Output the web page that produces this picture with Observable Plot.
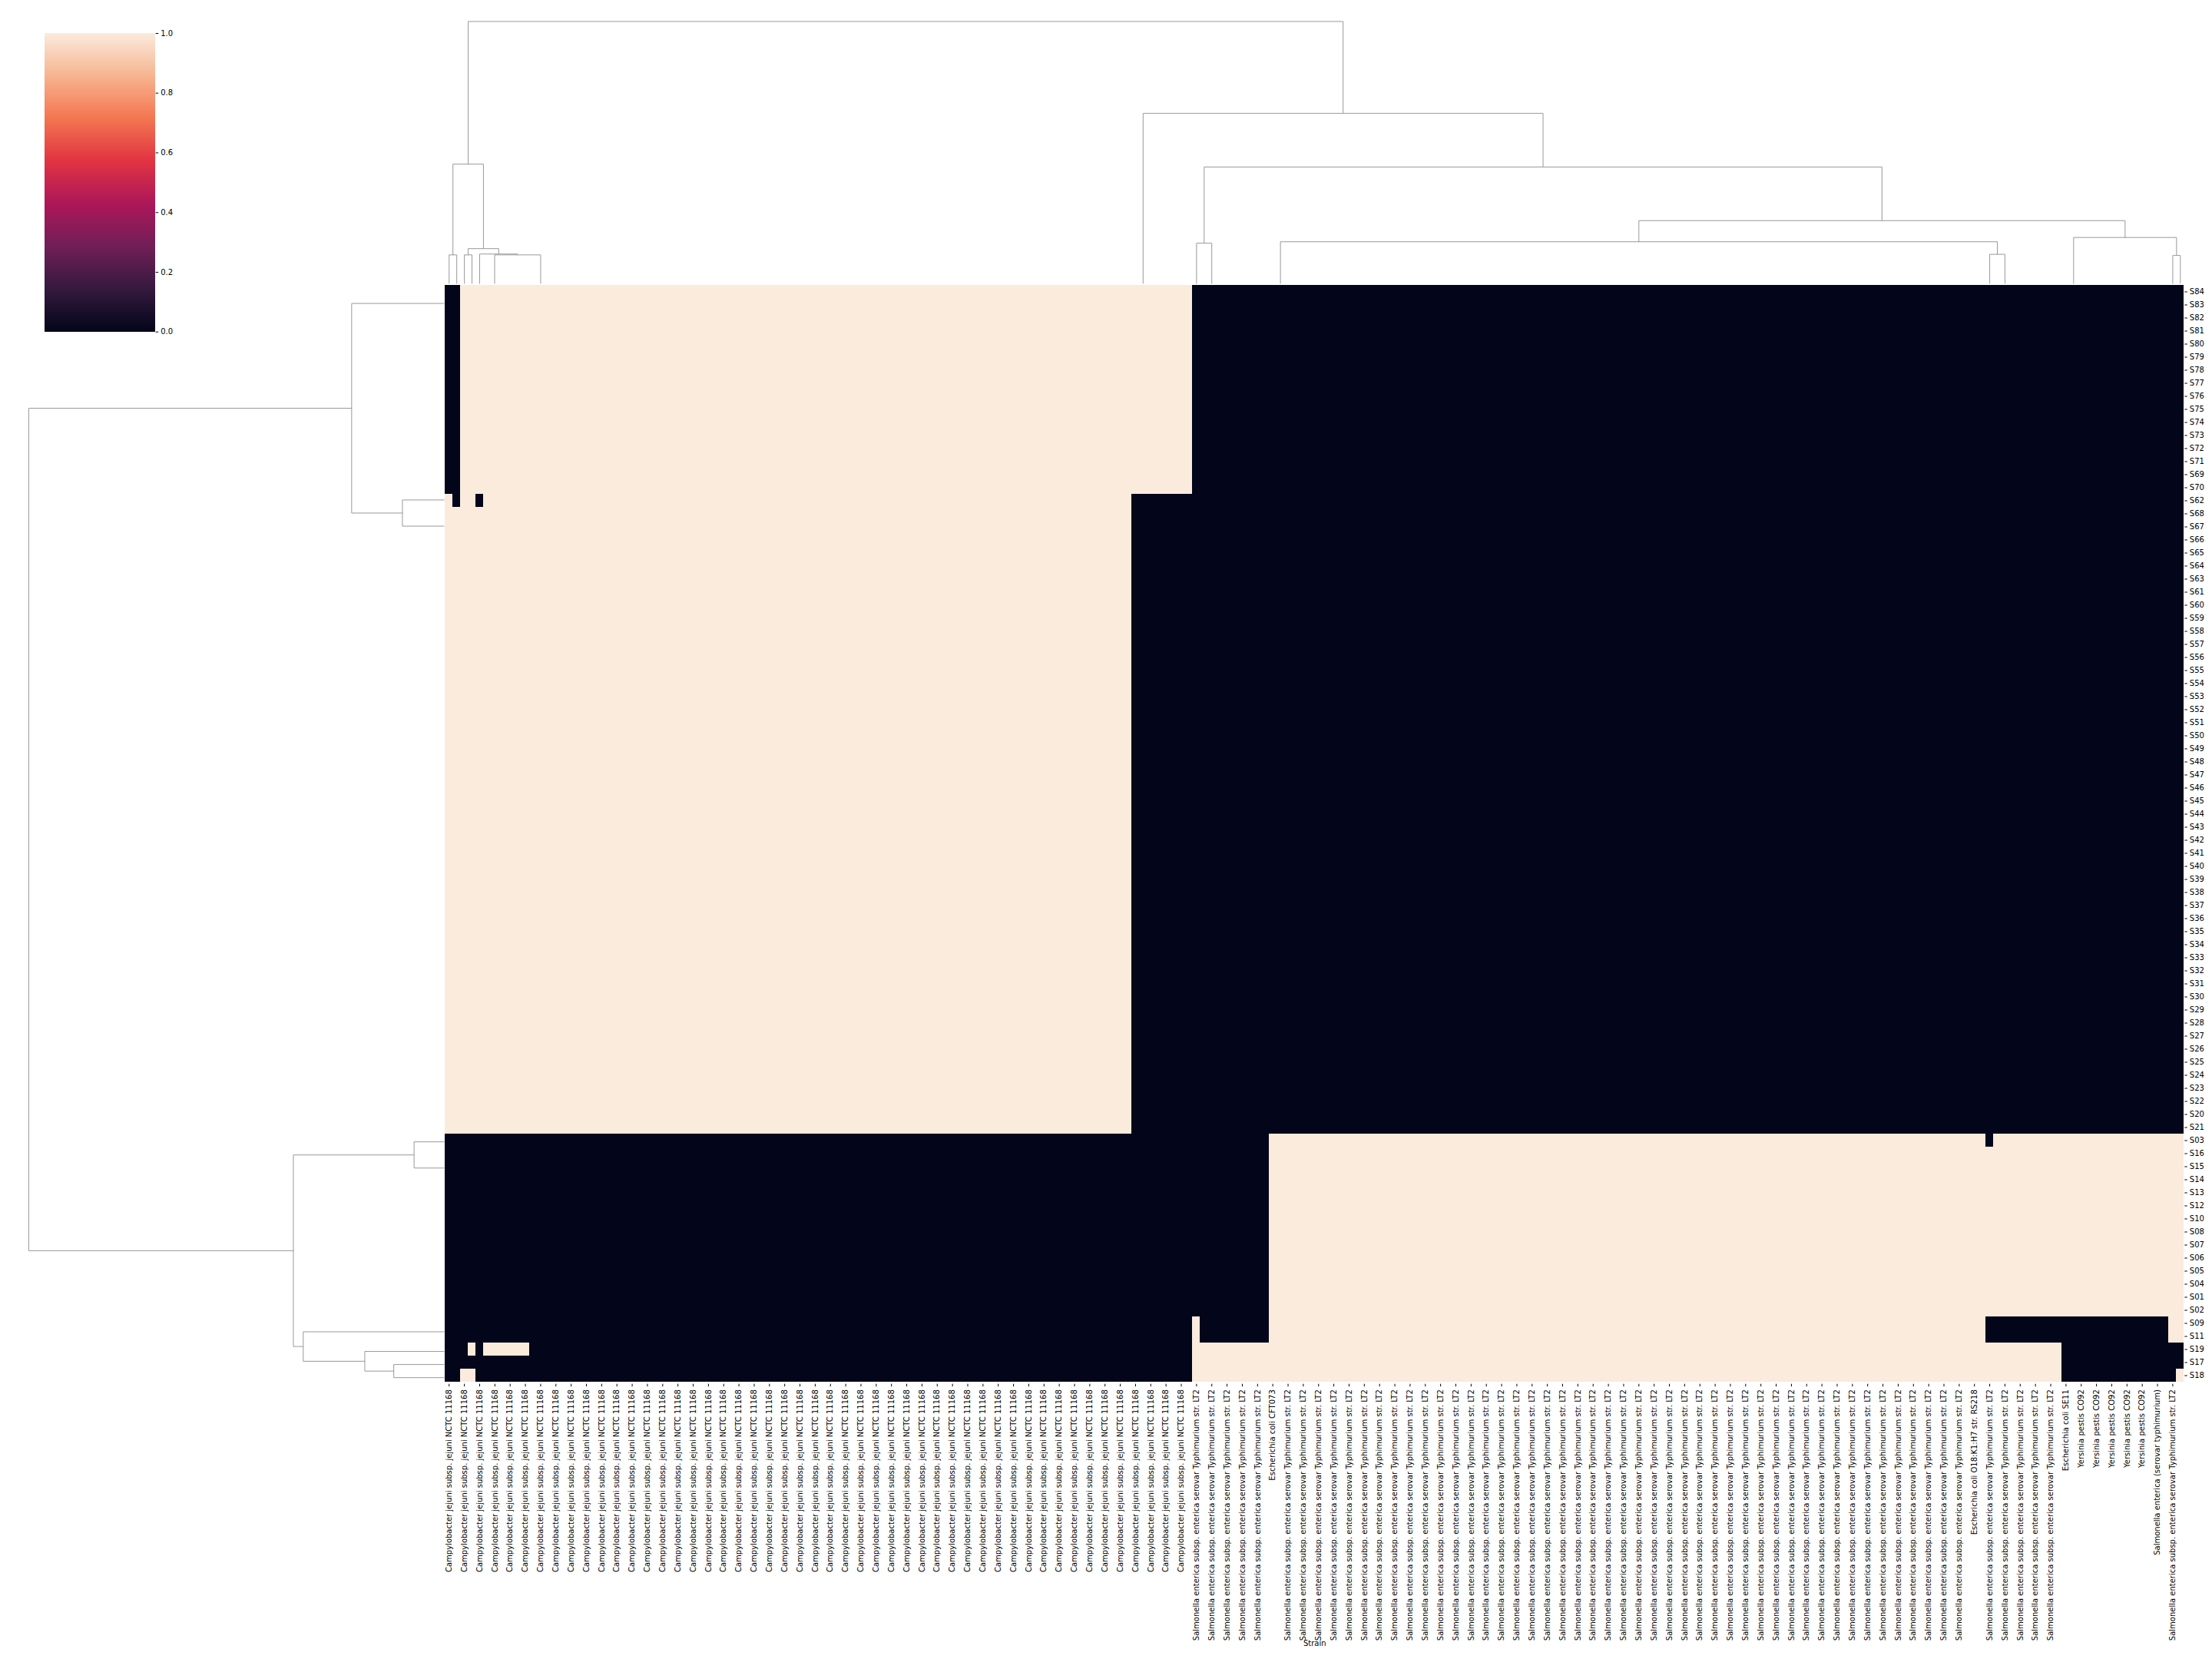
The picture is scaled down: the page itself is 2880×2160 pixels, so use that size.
<!DOCTYPE html>
<html><head><meta charset="utf-8">
<script src="https://cdn.jsdelivr.net/npm/d3@7"></script>
<script src="https://cdn.jsdelivr.net/npm/@observablehq/plot@0.6"></script>
<style>
html,body{margin:0;padding:0;background:#fff;}
#fig{position:relative;width:2880px;height:2160px;background:#fff;overflow:hidden;}
#fig > svg{position:absolute;left:0;top:0;margin:0;}
</style></head><body><div id="fig"></div>
<script>
// ---------- DATA ----------
const rowLabels = [
  "S84","S83","S82","S81","S80","S79","S78","S77","S76","S75","S74","S73","S72","S71","S69","S70",
  "S62",
  "S68","S67","S66","S65","S64","S63","S61","S60","S59","S58","S57","S56","S55","S54","S53","S52",
  "S51","S50","S49","S48","S47","S46","S45","S44","S43","S42","S41","S40","S39","S38","S37","S36",
  "S35","S34","S33","S32","S31","S30","S29","S28","S27","S26","S25","S24","S23","S22","S20","S21",
  "S03",
  "S16","S15","S14","S13","S12","S10","S08","S07","S06","S05","S04","S01","S02",
  "S09","S11","S19","S17","S18"
];

const CAMPY = "Campylobacter jejuni subsp. jejuni NCTC 11168";
const LT2 = "Salmonella enterica subsp. enterica serovar Typhimurium str. LT2";
// labels shown (every second column)
const strainTicks = [
  ...Array(49).fill(CAMPY),
  ...Array(5).fill(LT2),
  "Escherichia coli CFT073",
  ...Array(45).fill(LT2),
  "Escherichia coli O18:K1:H7 str. RS218",
  ...Array(5).fill(LT2),
  "Escherichia coli SE11",
  ...Array(5).fill("Yersinia pestis CO92"),
  "Salmonella enterica (serovar typhimurium)",
  LT2
];
const nCols = 228;

// column ranges holding value 1 for each row pattern
const patterns = {
  A: [[2, 97]],
  B: [[0, 0], [2, 3], [5, 89]],
  C: [[0, 89]],
  D: [[108, 201], [203, 227]],
  E: [[108, 227]],
  F: [[98, 98], [108, 201], [226, 227]],
  G: [[3, 3], [5, 10], [98, 211]],
  H: [[98, 211]],
  I: [[2, 3], [98, 211], [227, 227]]
};
const rowPattern = "A".repeat(16) + "B" + "C".repeat(48) + "D" + "E".repeat(13) + "FF" + "GHI";

// dendrogram merges: [id, left, right, height]; "a-b" = identical leaves a..b
const colMerges = [
  ["a1", "0", "1", 1.00],
  ["a3", "2", "3", 1.00],
  ["a5", "5-10", "11-89", 1.00],
  ["a4", "4", "a5", 1.03],
  ["a2", "a3", "a4", 1.22],
  ["L", "a1", "a2", 4.18],
  ["b2", "98", "99-107", 1.41],
  ["b6", "202", "203-211", 1.02],
  ["b4", "108-201", "b6", 1.46],
  ["b7", "226", "227", 0.98],
  ["b5", "212-225", "b7", 1.61],
  ["b3", "b4", "b5", 2.20],
  ["b1", "b2", "b3", 4.08],
  ["R", "90-97", "b1", 5.96],
  ["root", "L", "R", 9.18]
];
const rowMerges = [
  ["ra", "16", "17-64", 1.39],
  ["rb", "0-15", "ra", 3.09],
  ["ry", "65", "66-78", 1.00],
  ["rv", "82", "83", 1.68],
  ["rw", "81", "rv", 2.65],
  ["rz", "79-80", "rw", 4.71],
  ["rx", "ry", "rz", 5.04],
  ["root", "rb", "rx", 13.9]
];

const rocketStops = ["#03051a","#35193e","#701f57","#ad1759","#e13342","#f37651","#f6b48f","#faebdd"];
const colorbarTicks = [0, 0.2, 0.4, 0.6, 0.8, 1.0];

// ---------- BUILD ----------
const rocket = d3.piecewise(d3.interpolateRgb, rocketStops);
const cells = [];
rowLabels.forEach((r, i) => {
  const runs = patterns[rowPattern[i]];
  for (let c = 0; c < nCols; c++) {
    cells.push({r, c, v: runs.some(([a, b]) => c >= a && c <= b) ? 1 : 0});
  }
});

function leafPos(s) {
  if (s.includes("-")) {
    const [a, b] = s.split("-").map(Number);
    const n = b - a + 1;
    return a + 1 - Math.pow(2, -(n - 1));
  }
  return Number(s);
}
function dendro(merges) {
  const nodes = new Map();
  const get = s => nodes.has(s) ? nodes.get(s) : {p: leafPos(s), h: 0};
  const pts = [];
  for (const [id, l, r, h] of merges) {
    const A = get(l), B = get(r);
    pts.push({id, p: A.p, h: A.h}, {id, p: A.p, h}, {id, p: B.p, h}, {id, p: B.p, h: B.h});
    nodes.set(id, {p: (A.p + B.p) / 2, h});
  }
  return pts;
}

const style = {fontFamily: "DejaVu Sans, sans-serif", fontSize: "10px", background: "none", overflow: "visible", color: "#000"};
const L = 579.3, R = 2880 - 2843.3, T = 369, B = 2160 - 1801.7;
const fig = document.getElementById("fig");

fig.append(Plot.plot({
  width: 2880, height: 2160, marginLeft: L, marginRight: R, marginTop: T, marginBottom: B,
  style,
  x: {type: "band", domain: d3.range(nCols), padding: 0, ticks: d3.range(0, nCols, 2),
      tickFormat: c => strainTicks[c / 2], tickRotate: -90, tickSize: 3.5, tickPadding: 3.5,
      label: "Strain", labelAnchor: "center", labelOffset: 341},
  y: {type: "band", domain: rowLabels, padding: 0, axis: "right", tickSize: 3.5, tickPadding: 3.5, label: null},
  color: {type: "linear", domain: [0, 1], interpolate: rocket},
  marks: [Plot.cell(cells, {x: "c", y: "r", fill: "v", shapeRendering: "crispEdges"})]
}));

fig.append(Plot.plot({
  width: 2880, height: 369, marginLeft: L, marginRight: R, marginTop: 10, marginBottom: 0.5,
  style,
  x: {domain: [-0.5, nCols - 0.5], axis: null},
  y: {domain: [0, 9.65], axis: null},
  marks: [Plot.line(dendro(colMerges), {x: "p", y: "h", z: "id", stroke: "#999", strokeWidth: 1})]
}));

fig.append(Plot.plot({
  width: 578, height: 2160, marginLeft: 9.7, marginRight: 0.5, marginTop: T, marginBottom: B,
  style,
  x: {domain: [14.6, 0], axis: null},
  y: {domain: [rowLabels.length - 0.5, -0.5], axis: null},
  marks: [Plot.line(dendro(rowMerges), {x: "h", y: "p", z: "id", stroke: "#999", strokeWidth: 1})]
}));

const ramp = d3.range(256);
fig.append(Plot.plot({
  width: 240, height: 440, marginLeft: 58, marginRight: 38.3, marginTop: 43, marginBottom: 8.3,
  style,
  x: {domain: [0, 1], axis: null},
  y: {domain: [0, 1], axis: "right", ticks: colorbarTicks, tickFormat: d3.format(".1f"), tickSize: 3.5, tickPadding: 3.5, label: null},
  color: {type: "linear", domain: [0, 1], interpolate: rocket},
  marks: [Plot.rect(ramp, {x1: 0, x2: 1, y1: d => d / 256, y2: d => (d + 1) / 256, fill: d => (d + 0.5) / 256, shapeRendering: "crispEdges"})]
}));
</script></body></html>
